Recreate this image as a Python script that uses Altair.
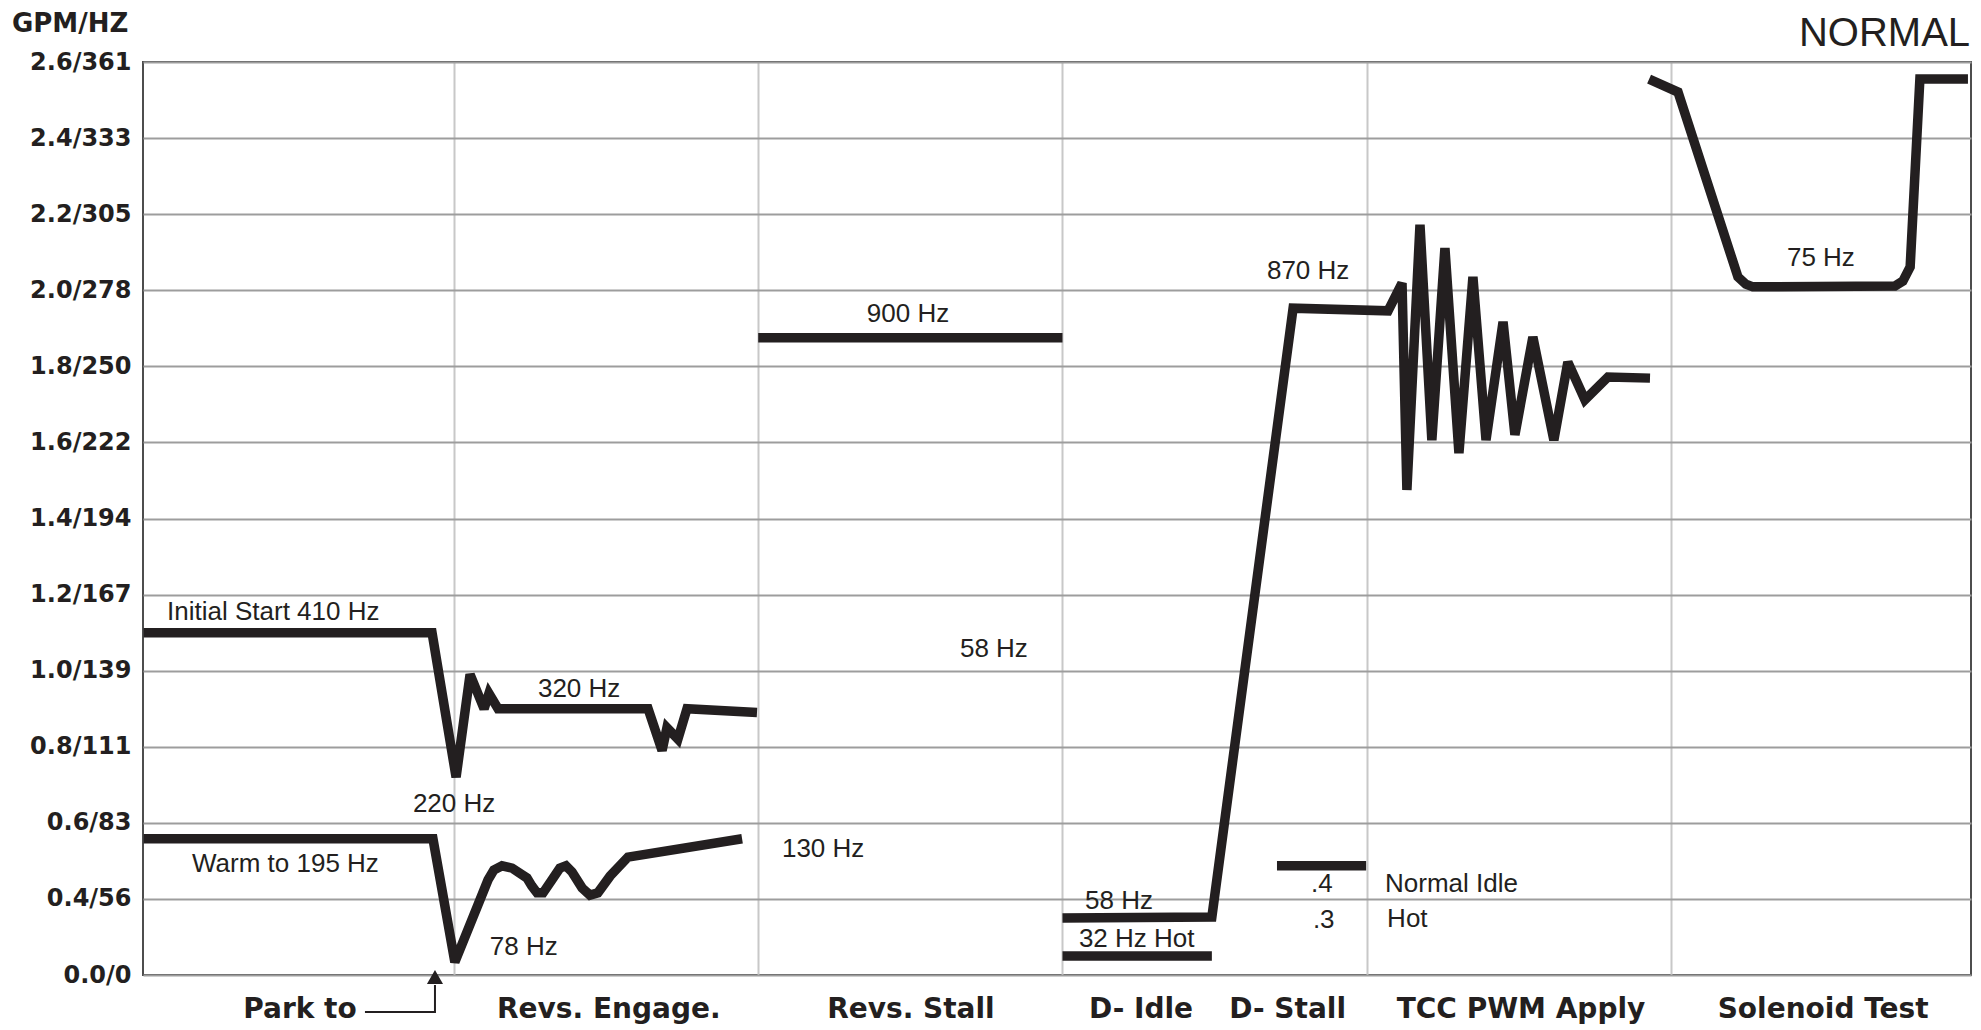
import altair as alt
import pandas as pd

# ---------------- data ----------------
Y_LABELS = ["0.0/0", "0.4/56", "0.6/83", "0.8/111", "1.0/139", "1.2/167", "1.4/194",
            "1.6/222", "1.8/250", "2.0/278", "2.2/305", "2.4/333", "2.6/361"]
Y_LEVELS = [0.0, 0.4, 0.6, 0.8, 1.0, 1.2, 1.4, 1.6, 1.8, 2.0, 2.2, 2.4, 2.6]

# x in "section" units (vertical gridlines at 1..5), y in GPM
initial_x = [-0.02, 0.928, 1.007, 1.053, 1.099, 1.115, 1.145, 1.638, 1.684, 1.700, 1.736, 1.766, 1.996]
initial_y = [1.10, 1.10, 0.72, 0.99, 0.90, 0.94, 0.90, 0.90, 0.79, 0.85, 0.82, 0.90, 0.89]

warm_x = [-0.02, 0.931, 1.003, 1.112, 1.131, 1.158, 1.191, 1.240, 1.256, 1.273, 1.293,
          1.322, 1.348, 1.368, 1.388, 1.421, 1.447, 1.473, 1.513, 1.572, 1.947]
warm_y = [0.558, 0.558, 0.068, 0.450, 0.476, 0.487, 0.481, 0.455, 0.434, 0.416, 0.416,
          0.450, 0.481, 0.487, 0.471, 0.429, 0.410, 0.416, 0.460, 0.510, 0.558]

stall_x = [2.0, 3.0]
stall_y = [1.875, 1.875]

drive_x = [3.0, 3.491, 3.758, 4.070, 4.116, 4.132, 4.175, 4.214, 4.257, 4.303, 4.349,
           4.392, 4.448, 4.487, 4.546, 4.615, 4.661, 4.717, 4.793, 4.931]
drive_y = [0.30, 0.305, 1.953, 1.946, 2.019, 1.475, 2.172, 1.606, 2.111, 1.572, 2.035,
           1.606, 1.917, 1.620, 1.877, 1.606, 1.811, 1.712, 1.772, 1.769]

sol_x = [4.928, 5.023, 5.220, 5.246, 5.269, 5.736, 5.762, 5.786, 5.818, 5.976]
sol_y = [2.555, 2.521, 2.035, 2.016, 2.009, 2.011, 2.024, 2.061, 2.555, 2.555]

hot_x = [3.0, 3.491]
hot_y = [0.10, 0.10]

idle_x = [3.705, 3.998]
idle_y = [0.487, 0.487]

arrow_x = [0.7075, 0.9376, 0.9376]
arrow_y = [-0.195, -0.195, -0.053]
arrow_head_x = [0.9376]
arrow_head_y = [-0.011]

note_text = ["Initial Start 410 Hz", "Warm to 195 Hz", "220 Hz", "320 Hz", "78 Hz", "130 Hz",
             "58 Hz", "900 Hz", "870 Hz", "75 Hz", "58 Hz", "32 Hz Hot", ".4", ".3",
             "Normal Idle", "Hot"]
note_x = [0.057, 0.139, 0.865, 1.276, 1.118, 2.078, 2.663, 2.357, 3.672, 5.381, 3.074,
          3.054, 3.817, 3.823, 4.060, 4.067]
note_y = [1.133, 0.471, 0.628, 0.931, 0.105, 0.510, 1.036, 1.917, 2.030, 2.064, 0.347,
          0.147, 0.418, 0.247, 0.418, 0.252]

cat_text = ["Park to", "Revs. Engage.", "Revs. Stall", "D- Idle", "D- Stall",
            "TCC PWM Apply", "Solenoid Test"]
cat_x = [0.494, 1.509, 2.502, 3.258, 3.740, 4.507, 5.50]
cat_y = [-0.225] * 7

head_left_text = ["GPM/HZ"]
head_left_x = [-0.4527]
head_left_y = [2.679]
head_right_text = ["NORMAL"]
head_right_x = [5.983]
head_right_y = [2.642]

# ---------------- tables ----------------
def series(name, xs, ys):
    return pd.DataFrame({"series": name, "i": list(range(len(xs))), "x": xs, "gpm": ys})

lines_df = pd.concat([
    series("initial", initial_x, initial_y),
    series("warm", warm_x, warm_y),
    series("stall", stall_x, stall_y),
    series("drive", drive_x, drive_y),
    series("solenoid", sol_x, sol_y),
    series("hot", hot_x, hot_y),
    series("idle", idle_x, idle_y),
], ignore_index=True)
arrow_df = series("arrow", arrow_x, arrow_y)
head_df = pd.DataFrame({"x": arrow_head_x, "gpm": arrow_head_y})
notes_df = pd.DataFrame({"x": note_x, "gpm": note_y, "label": note_text})
cats_df = pd.DataFrame({"x": cat_x, "gpm": cat_y, "label": cat_text})
hl_df = pd.DataFrame({"x": head_left_x, "gpm": head_left_y, "label": head_left_text})
hr_df = pd.DataFrame({"x": head_right_x, "gpm": head_right_y, "label": head_right_text})

# the vertical scale is spaced by gridline index (0.0->0.4 occupies one step)
G_EXPR = "datum.gpm < 0.4 ? datum.gpm / 0.4 : (datum.gpm - 0.4) / 0.2 + 1"
LABEL_EXPR = "[" + ",".join("'%s'" % s for s in Y_LABELS) + "][datum.value]"

INK = "#231f20"

enc_x = alt.X("x:Q", scale=alt.Scale(domain=[-0.022, 5.986], nice=False, zero=False),
              axis=alt.Axis(values=[1, 2, 3, 4, 5], grid=True, gridColor="#c8c8c8",
                            gridWidth=2, labels=False, ticks=False, domain=False, title=None))
enc_y = alt.Y("g:Q", scale=alt.Scale(domain=[0, len(Y_LEVELS) - 1], nice=False, zero=False),
              axis=alt.Axis(values=list(range(len(Y_LEVELS))), labelExpr=LABEL_EXPR,
                            grid=True, gridColor="#9d9d9d", gridWidth=2, ticks=False,
                            domain=False, title=None, labelFont="DejaVu Sans",
                            labelFontWeight="bold", labelFontSize=24, labelColor=INK,
                            labelPadding=12))

lines = alt.Chart(lines_df).transform_calculate(g=G_EXPR).mark_line(
    color=INK, strokeWidth=9.5, strokeCap="butt", strokeJoin="miter", strokeMiterLimit=2.5
).encode(x=enc_x, y=enc_y, detail="series:N", order="i:Q")

arrow = alt.Chart(arrow_df).transform_calculate(g=G_EXPR).mark_line(
    color=INK, strokeWidth=2
).encode(x=enc_x, y=enc_y, order="i:Q")

arrow_head = alt.Chart(head_df).transform_calculate(g=G_EXPR).mark_point(
    shape="triangle-up", filled=True, color=INK, opacity=1, size=260
).encode(x=enc_x, y=enc_y)

notes = alt.Chart(notes_df).transform_calculate(g=G_EXPR).mark_text(
    align="left", baseline="alphabetic", font="Liberation Sans", fontSize=26, color=INK
).encode(x=enc_x, y=enc_y, text="label:N")

cats = alt.Chart(cats_df).transform_calculate(g=G_EXPR).mark_text(
    align="center", baseline="alphabetic", font="DejaVu Sans", fontWeight="bold",
    fontSize=28, color=INK
).encode(x=enc_x, y=enc_y, text="label:N")

head_left = alt.Chart(hl_df).transform_calculate(g=G_EXPR).mark_text(
    align="left", baseline="alphabetic", font="DejaVu Sans", fontWeight="bold",
    fontSize=26, color=INK
).encode(x=enc_x, y=enc_y, text="label:N")

head_right = alt.Chart(hr_df).transform_calculate(g=G_EXPR).mark_text(
    align="right", baseline="alphabetic", font="Liberation Sans", fontSize=40, color=INK
).encode(x=enc_x, y=enc_y, text="label:N")

chart = alt.layer(lines, arrow, arrow_head, notes, cats, head_left, head_right).properties(
    width=1828, height=913,
    autosize=alt.AutoSizeParams(type="none"),
    padding={"left": 135, "top": 54, "right": 2, "bottom": 60},
).configure_view(stroke="#4d4d4d", strokeWidth=2)

chart.save("out.html", embed_options={"renderer": "svg", "actions": False})
